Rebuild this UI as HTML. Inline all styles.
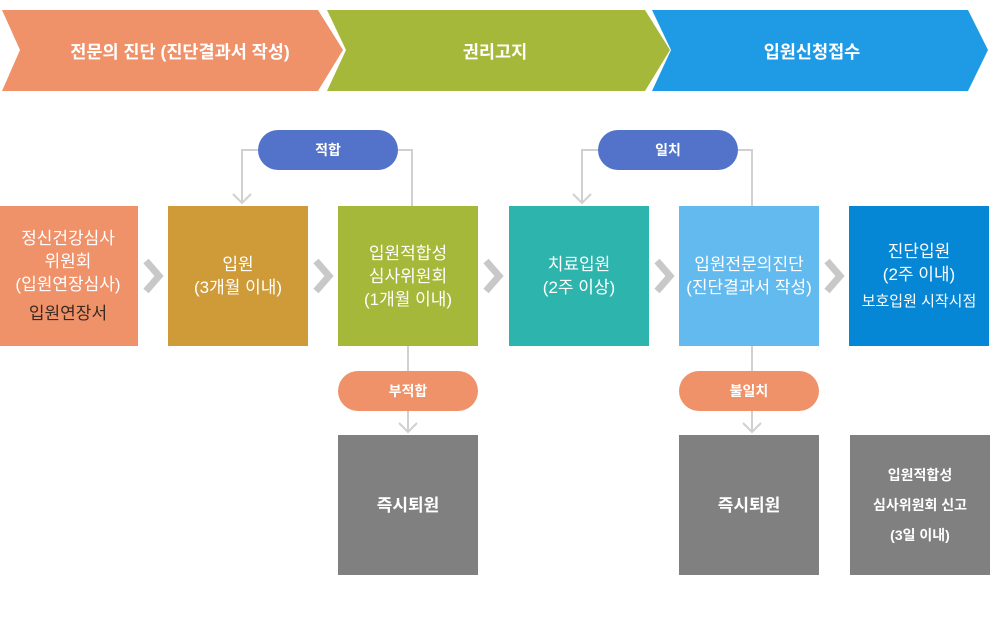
<!DOCTYPE html>
<html><head><meta charset="utf-8"><style>
body{margin:0;width:990px;height:632px;background:#fff;position:relative;overflow:hidden;font-family:"Liberation Sans","Noto Sans CJK KR",sans-serif;}
.b{position:absolute;width:140px;height:140px;color:#fff;display:flex;flex-direction:column;align-items:center;justify-content:center;text-align:center;font-size:17px;line-height:23px;}
.pill{position:absolute;width:140px;height:40px;border-radius:20px;color:#fff;font-weight:bold;font-size:14px;display:flex;align-items:center;justify-content:center;}
.t{position:absolute;color:#fff;font-weight:bold;font-size:17.5px;top:39px;}
</style></head><body>
<svg width="990" height="632" style="position:absolute;left:0;top:0">
<polygon points="2,10 318,10 343,50 318,91 2,91 20,50" fill="#ef9169"/>
<polygon points="327,10 645,10 670,50 645,91 327,91 346,50" fill="#a5b83a"/>
<polygon points="652,10 968,10 988,50 968,91 652,91 671,50" fill="#1f9be5"/>
<g stroke="#d0d0d0" stroke-width="2" fill="none">
<polyline points="258,150 242,150 242,203"/><polyline points="233,194 242,203 251,194"/>
<polyline points="398,150 412,150 412,206"/>
<polyline points="598,150 582,150 582,203"/><polyline points="573,194 582,203 591,194"/>
<polyline points="738,150 752,150 752,206"/>
<line x1="408" y1="346" x2="408" y2="432"/><polyline points="399,423 408,432 417,423"/>
<line x1="752" y1="346" x2="752" y2="432"/><polyline points="743,423 752,432 761,423"/>
</g>
<g stroke="#c8c8c8" stroke-width="7" fill="none">
<polyline points="146,261 159,276 146,291"/>
<polyline points="316,261 329,276 316,291"/>
<polyline points="486,261 499,276 486,291"/>
<polyline points="657,261 670,276 657,291"/>
<polyline points="827,261 840,276 827,291"/>
</g>
</svg>
<div class="t" style="left:30px;width:300px;text-align:center">전문의 진단 (진단결과서 작성)</div>
<div class="t" style="left:345px;width:300px;text-align:center">권리고지</div>
<div class="t" style="left:662px;width:300px;text-align:center">입원신청접수</div>
<div class="pill" style="left:258px;top:130px;background:#5273c9">적합</div>
<div class="pill" style="left:598px;top:130px;background:#5273c9">일치</div>
<div class="pill" style="left:338px;top:371px;background:#ef9169">부적합</div>
<div class="pill" style="left:679px;top:371px;background:#ef9169">불일치</div>
<div class="b" style="left:-2px;top:206px;background:#ef9169">정신건강심사<br>위원회<br>(입원연장심사)<span style="color:#3a2a20;margin-top:6px">입원연장서</span></div>
<div class="b" style="left:168px;top:206px;background:#cf9a38">입원<br>(3개월 이내)</div>
<div class="b" style="left:338px;top:206px;background:#a5b83a">입원적합성<br>심사위원회<br>(1개월 이내)</div>
<div class="b" style="left:509px;top:206px;background:#2db4ac">치료입원<br>(2주 이상)</div>
<div class="b" style="left:679px;top:206px;background:#63baee">입원전문의진단<br>(진단결과서 작성)</div>
<div class="b" style="left:849px;top:206px;background:#0587d6">진단입원<br>(2주 이내)<span style="font-size:15px;margin-top:4px">보호입원 시작시점</span></div>
<div class="b" style="left:338px;top:435px;background:#808080;font-weight:bold">즉시퇴원</div>
<div class="b" style="left:679px;top:435px;background:#808080;font-weight:bold">즉시퇴원</div>
<div class="b" style="left:850px;top:435px;background:#808080;font-weight:bold;font-size:14px;line-height:30px">입원적합성<br>심사위원회 신고<br>(3일 이내)</div>
</body></html>
